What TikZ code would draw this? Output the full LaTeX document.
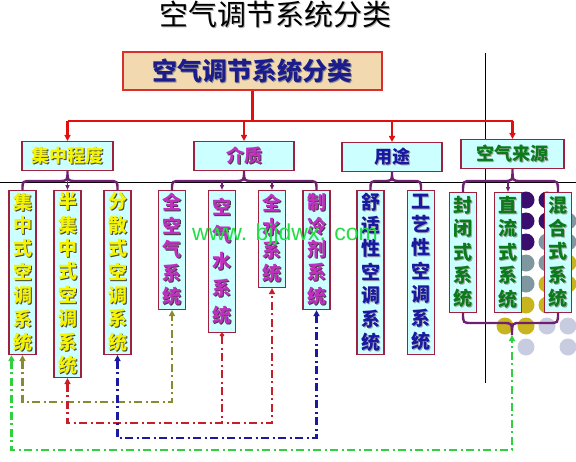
\documentclass[tikz,border=0pt]{standalone}
\usepackage{fontspec}
\setmainfont{Liberation Sans}
\newfontfamily\cjk{Noto Sans CJK SC}
\usepackage{xcolor}
\usepackage{tikz}
\usetikzlibrary{arrows.meta,positioning,calc}

\definecolor{boxcyan}{HTML}{CCFFFF}
\definecolor{boxedge}{HTML}{A02040}
\definecolor{rootfill}{HTML}{F2D9B0}
\definecolor{rootedge}{HTML}{D83030}
\definecolor{busred}{HTML}{E01010}
\definecolor{bracepurple}{HTML}{702070}
\definecolor{txtyellow}{HTML}{F4F400}
\definecolor{txtpink}{HTML}{C030C0}
\definecolor{txtblue}{HTML}{1818A0}
\definecolor{txtgreen}{HTML}{0A7A1A}
\definecolor{rootblue}{HTML}{1C1C8C}
\definecolor{lnolive}{HTML}{8A8A30}
\definecolor{lnred}{HTML}{C81E2A}
\definecolor{lnblue}{HTML}{1A1AA0}
\definecolor{lngreen}{HTML}{30D040}
\definecolor{markgreen}{HTML}{22DD44}
\definecolor{dotpurple}{HTML}{3A0E6E}
\definecolor{dotgrey}{HTML}{7F98A0}
\definecolor{dotyellow}{HTML}{C8B41E}
\definecolor{dotlav}{HTML}{C8CCE0}

% text with a drop shadow
\newcommand{\shad}[3][black!75]{\rlap{\kern1pt\lower1pt\hbox{\color{#1}#3}}{\color{#2}#3}}
% characters stacked one above the other
\newcommand{\vchars}[2][23.4pt]{\vbox{\baselineskip=#1\lineskiplimit=-30pt\vstep#2\relax}}
\def\vstep#1{\ifx#1\relax\else\hbox to 1em{\hss#1\hss}\expandafter\vstep\fi}
% curly brace: end, tip, end, level of the bar
\newcommand{\bracepath}[4]{(#1) .. controls (#1 |- #4) .. ($(#1 |- #4)+(9,0)$) -- ($(#2 |- #4)+(-9,0)$) .. controls (#2 |- #4) .. (#2) .. controls (#2 |- #4) .. ($(#2 |- #4)+(9,0)$) -- ($(#3 |- #4)+(-9,0)$) .. controls (#3 |- #4) .. (#3)}

\begin{document}
\begin{tikzpicture}[x=1pt,y=-1pt,
  rootbox/.style={draw=rootedge,line width=1.3pt,fill=rootfill,minimum width=259pt,minimum height=38pt,inner sep=0pt,
    font=\cjk\bfseries\fontsize{25}{28}\selectfont},
  cat/.style={draw=boxedge,line width=1.1pt,fill=boxcyan,minimum width=100pt,minimum height=29pt,inner sep=0pt,
    font=\cjk\bfseries\fontsize{18}{20}\selectfont},
  leaf/.style={draw=boxedge,line width=1.1pt,fill=boxcyan,minimum width=27pt,inner sep=1pt,anchor=north,
    font=\cjk\bfseries\fontsize{19}{23}\selectfont},
  bus/.style={busred,line width=2.2pt},
  brace/.style={bracepurple,line width=2.4pt},
  dashdot/.style={line width=2.3pt,dash pattern=on 8pt off 3.5pt on 2pt off 3.5pt},
  bothtips/.style={{Triangle[length=6pt,width=6pt]}-{Triangle[length=6pt,width=6pt]}}]
\useasboundingbox (0,0) rectangle (576,461);

% slide decoration
\foreach \cx/\cy/\cc in {526/200/dotpurple,526/221/dotpurple,526/242/dotpurple,526/263/dotgrey,526/284/dotgrey,
    526/305/dotyellow,526/326/dotyellow,526/347/dotlav,
    547/200/dotpurple,547/221/dotpurple,547/242/dotgrey,547/263/dotgrey,547/284/dotyellow,547/305/dotyellow,547/326/dotlav,
    568/221/dotgrey,568/242/dotgrey,568/263/dotyellow,568/284/dotyellow,568/326/dotlav,568/347/dotlav,
    505/305/dotyellow,505/326/dotyellow}
  \fill[\cc] (\cx,\cy) circle (8.5pt);
\draw[black,line width=0.8pt] (0,182) -- (576,182);
\draw[black,line width=0.8pt] (485,53) -- (485,383);

\node[font=\cjk\fontsize{29}{32}\selectfont] (title) at (275,15) {\shad[black!30]{black}{空气调节系统分类}};
\node[rootbox] (root) at (252.5,71) {\shad[black!45]{rootblue}{空气调节系统分类}};

\node[cat,minimum width=91pt] (conc) at (67.5,156) {\shad{txtyellow}{集中程度}};
\node[cat] (medium) at (244,156) {\shad{txtpink}{介质}};
\node[cat] (usage) at (392,157) {\shad[black!35]{txtblue}{用途}};
\node[cat,minimum width=103pt] (source) at (512.5,154) {\shad[black!35]{txtgreen}{空气来源}};

\node[leaf,minimum height=164pt] (cen) at (22.5,190) {\shad{txtyellow}{\vchars{集中式空调系统}}};
\node[leaf,minimum height=187pt] (semi) at (67.5,190) {\shad{txtyellow}{\vchars{半集中式空调系统}}};
\node[leaf,minimum height=164pt] (dist) at (117.5,190) {\shad{txtyellow}{\vchars{分散式空调系统}}};
\node[leaf,minimum height=119pt] (allair) at (172,190) {\shad{txtpink}{\vchars{全空气系统}}};
\node[leaf,minimum height=142pt] (airwater) at (222,190) {\shad{txtpink}{\vchars[27pt]{空气水系统}}};
\node[leaf,minimum height=97pt] (allwater) at (272,190) {\shad{txtpink}{\vchars{全水系统}}};
\node[leaf,minimum height=119pt] (refr) at (316.5,190) {\shad{txtpink}{\vchars{制冷剂系统}}};
\node[leaf,minimum height=164pt] (comfort) at (370.5,190) {\shad[black!35]{txtblue}{\vchars{舒适性空调系统}}};
\node[leaf,minimum height=164pt] (process) at (421,190) {\shad[black!35]{txtblue}{\vchars{工艺性空调系统}}};
\node[leaf,minimum height=120pt] (closed) at (463,192) {\shad[black!35]{txtgreen}{\vchars{封闭式系统}}};
\node[leaf,minimum height=120pt] (direct) at (508,192) {\shad[black!35]{txtgreen}{\vchars{直流式系统}}};
\node[leaf,minimum height=120pt] (mixed) at (558,192) {\shad[black!35]{txtgreen}{\vchars{混合式系统}}};

% red tree
\coordinate (busL) at (0,121);
\draw[bus] (root.south) -- (root.south |- busL);
\draw[bus] (conc.north |- busL) -- (source.north |- busL);
\foreach \n in {conc,medium,usage,source}
  \draw[bus,-{Triangle[length=6pt,width=6pt]}] (\n.north |- busL) -- (\n.north);

% braces
\coordinate (barA) at (0,181);
\coordinate (barB) at (0,323);
\coordinate (srcTip) at (512,335);
\draw[brace] \bracepath{cen.north}{conc.south}{dist.north}{barA};
\draw[brace] \bracepath{allair.north}{medium.south}{refr.north}{barA};
\draw[brace] \bracepath{comfort.north}{usage.south}{process.north}{barA};
\draw[brace] \bracepath{closed.north}{source.south}{mixed.north}{barA};
\draw[brace] \bracepath{closed.south}{srcTip}{mixed.south}{barB};
\foreach \n in {semi,airwater,allwater,direct}
  \draw[brace,line width=1.2pt,-{Triangle[length=5pt,width=4pt]}] (\n.north |- barA) -- (\n.north);

% dash-dot links
\coordinate (lvO) at (0,402);
\coordinate (lvR) at (0,423);
\coordinate (lvB) at (0,438);
\coordinate (lvG) at (0,450);
\coordinate (cenG) at ($(cen.south west)+(3,0)$);
\draw[dashdot,lnolive,bothtips] (cen.south) -- (cen.south |- lvO) -| (allair.south);
\draw[dashdot,lnred,bothtips] (semi.south) -- (semi.south |- lvR) -| (allwater.south);
\draw[dashdot,lnred,{Circle[length=4pt]}-] (airwater.south) -- (airwater.south |- lvR);
\draw[dashdot,lnblue,bothtips] (dist.south) -- (dist.south |- lvB) -| (refr.south);
\draw[dashdot,lngreen,bothtips] (cenG) -- (cenG |- lvG) -| (srcTip);

\node[anchor=base west,inner sep=0pt,font=\fontsize{23}{23}\selectfont,text=markgreen] (mark) at (192,240) {www. bjjdwx. com};
\end{tikzpicture}
\end{document}
